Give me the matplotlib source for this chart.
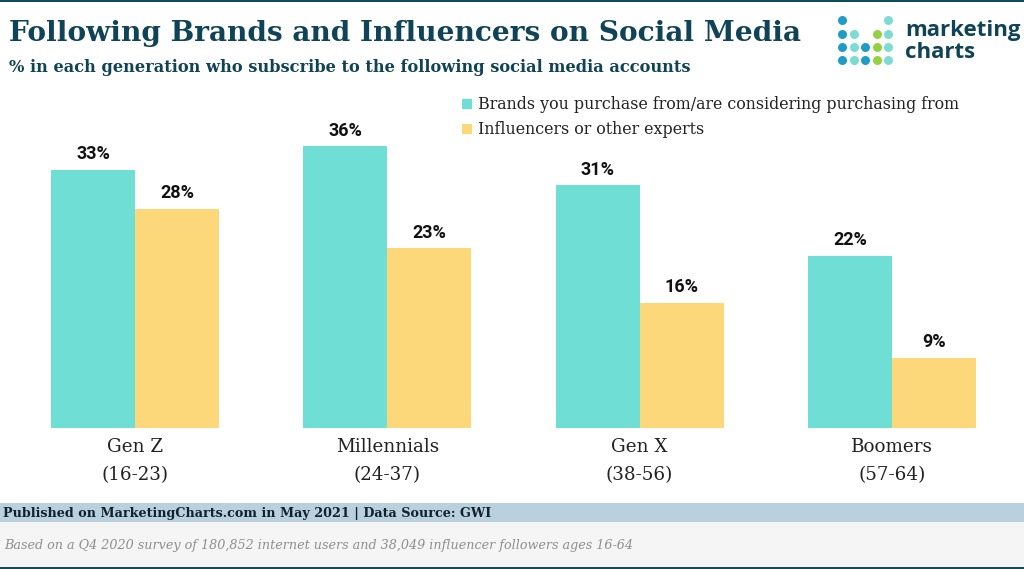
#!/usr/bin/env python3
"""
Following brands and influencers on social media, by generation
"""

import matplotlib
matplotlib.use("Agg")
import matplotlib.pyplot as plt
from matplotlib.patches import Rectangle
import numpy as np

generations = ['Gen Z\n(16-23)', 'Millennials\n(24-37)', 'Gen X\n(38-56)', 'Boomers\n(57-64)']
brands = [33, 36, 31, 22]
influencers = [28, 23, 16, 9]
series_names = ['Brands you purchase from/are considering purchasing from',
                'Influencers or other experts']

TEAL = '#6fdfd6'
YELLOW = '#fdd87a'
DARK = '#0f4358'
SERIF = 'DejaVu Serif'
W, H = 1024, 569

fig = plt.figure(figsize=(10.24, 5.69), dpi=100, facecolor='white')

# overlay in pixel coordinates for the title, footer and logo
bg = fig.add_axes([0, 0, 1, 1])
bg.set_xlim(0, W)
bg.set_ylim(H, 0)
bg.axis('off')

bg.add_patch(Rectangle((0, 0), W, 2, color='#0f4c5c', lw=0))
bg.add_patch(Rectangle((0, 503), W, 19, color='#b9d0de', lw=0))
bg.add_patch(Rectangle((0, 522), W, 45, color='#f5f5f5', lw=0))
bg.add_patch(Rectangle((0, 567), W, 2, color='#0f4c5c', lw=0))

bg.text(9, 33, 'Following Brands and Influencers on Social Media', family=SERIF,
        fontweight='bold', fontsize=20.2, color=DARK, va='center', ha='left')
bg.text(9, 67, '% in each generation who subscribe to the following social media accounts',
        family=SERIF, fontweight='bold', fontsize=11.7, color=DARK, va='center', ha='left')
bg.text(3, 513, 'Published on MarketingCharts.com in May 2021 | Data Source: GWI', family=SERIF,
        fontweight='bold', fontsize=9.2, color='#10222c', va='center', ha='left')
bg.text(4, 545, 'Based on a Q4 2020 survey of 180,852 internet users and 38,049 influencer followers ages 16-64',
        family=SERIF, style='italic', fontsize=9.2, color='#8f8f8f', va='center', ha='left')

# logo dots
BLUE, MINT, GREEN = '#1c9cc6', '#7adcd2', '#93d143'
dot_x = [842.3, 853.7, 865.3, 877, 888.3]
dot_y = [20.3, 34, 47, 59.7]
dots = [[BLUE, None, None, None, MINT],
        [BLUE, MINT, None, GREEN, MINT],
        [BLUE, MINT, BLUE, GREEN, MINT],
        [BLUE, MINT, BLUE, GREEN, MINT]]
for row, y in zip(dots, dot_y):
    for c, x in zip(row, dot_x):
        if c:
            bg.scatter(x, y, s=42, color=c, lw=0)
bg.text(905, 30, 'marketing', family='Open Sans', fontweight='bold', fontsize=16, color=DARK,
        va='center', ha='left')
bg.text(905, 52, 'charts', family='Open Sans', fontweight='bold', fontsize=16, color=DARK,
        va='center', ha='left')

# chart axes: baseline at y=428 px, 7.83 px per percentage point
ax = fig.add_axes([9 / W, (H - 428) / H, 1008 / W, 330 / H])
ax.patch.set_alpha(0)
x = np.arange(len(generations))
bar_w = 84 / 252.3
ax.bar(x - bar_w / 2, brands, bar_w, color=TEAL)
ax.bar(x + bar_w / 2, influencers, bar_w, color=YELLOW)
ax.set_xlim(-126 / 252.3, (1008 - 126) / 252.3)
ax.set_ylim(0, 330 / 7.83)

for xi, v in zip(x, brands):
    ax.annotate(f'{v}%', (xi - bar_w / 2, v), xytext=(0, 11), textcoords='offset points',
                ha='center', va='center', fontsize=13, fontweight='bold',
                family='Roboto', color='#111111')
for xi, v in zip(x, influencers):
    ax.annotate(f'{v}%', (xi + bar_w / 2, v), xytext=(0, 11), textcoords='offset points',
                ha='center', va='center', fontsize=13, fontweight='bold',
                family='Roboto', color='#111111')

for s in ['top', 'left', 'right', 'bottom']:
    ax.spines[s].set_visible(False)
ax.set_yticks([])
ax.set_xticks(x)
ax.set_xticklabels(generations, family=SERIF, fontsize=13.2, color='#222222', linespacing=1.75)
ax.tick_params(axis='x', length=0, pad=7)

# legend
bg.add_patch(Rectangle((462, 99), 10, 10, color=TEAL, lw=0))
bg.add_patch(Rectangle((462, 124), 10, 10, color=YELLOW, lw=0))
bg.text(478, 104, series_names[0], family=SERIF, fontsize=11.4, color='#222222', va='center', ha='left')
bg.text(478, 129, series_names[1], family=SERIF, fontsize=11.4, color='#222222', va='center', ha='left')

plt.savefig('out.png', dpi=100)
